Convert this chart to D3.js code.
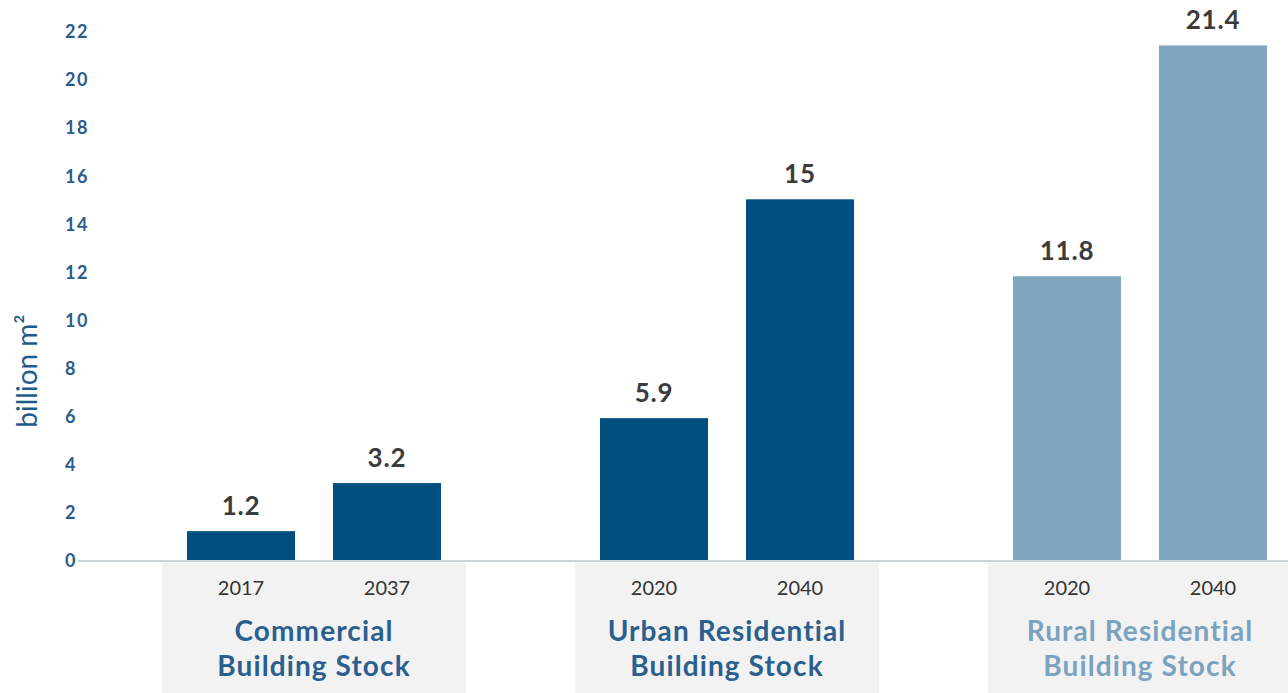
<!DOCTYPE html>
<html>
<head>
<meta charset="utf-8">
<script src="https://cdn.jsdelivr.net/npm/d3@7"></script>
<style>
  html, body { margin: 0; padding: 0; background: #fff; }
  svg { display: block; font-family: Lato, "Open Sans", sans-serif; }
</style>
</head>
<body>
<svg id="chart" width="1288" height="693"></svg>
<script>
// Building stock groups and their two years
const groups = ["Commercial", "Urban", "Rural"];
const groupLines = [
  ["Commercial", "Building Stock"],
  ["Urban Residential", "Building Stock"],
  ["Rural Residential", "Building Stock"]
];
const years = [["2017", "2037"], ["2020", "2040"], ["2020", "2040"]];
const values = [[1.2, 3.2], [5.9, 15], [11.8, 21.4]];
const valueLabels = [["1.2", "3.2"], ["5.9", "15"], ["11.8", "21.4"]];
const yTicks = [0, 2, 4, 6, 8, 10, 12, 14, 16, 18, 20, 22];
const yTitle = "billion m²";

const barColor = { Commercial: "#004f7f", Urban: "#004f7f", Rural: "#7fa5c0" };
const labelColor = { Commercial: "#2a5f8e", Urban: "#2a5f8e", Rural: "#7ba2be" };

const svg = d3.select("#chart");

const y = d3.scaleLinear().domain([0, 22]).range([560, 31]);
const xGroup = d3.scalePoint().domain(groups).range([314, 1140]);
const xInner = d3.scaleBand().domain([0, 1]).range([-127, 127]).paddingInner(0.26).paddingOuter(0);

// grey panels behind the category labels
svg.append("g").selectAll("rect").data(groups).join("rect")
  .attr("x", g => xGroup(g) - 152)
  .attr("y", 563)
  .attr("width", 304)
  .attr("height", 130)
  .attr("fill", "#f2f2f2");

// y axis: labels only
const yAxis = d3.axisLeft(y).tickValues(yTicks).tickSize(0).tickPadding(0);
const gy = svg.append("g").attr("transform", "translate(65,1)").call(yAxis);
gy.select(".domain").remove();
gy.selectAll("text")
  .attr("text-anchor", "start")
  .attr("font-family", "Lato, sans-serif")
  .attr("font-weight", 700)
  .attr("font-size", 18)
  .attr("letter-spacing", 1.5)
  .attr("fill", "#2b5c8a");

svg.append("text")
  .attr("transform", "translate(37,371) rotate(-90)")
  .attr("text-anchor", "middle")
  .attr("font-size", 28)
  .attr("fill", "#1d5c8c")
  .text(yTitle);

// baseline
svg.append("line")
  .attr("x1", 78).attr("x2", 1288)
  .attr("y1", y(0) + 1).attr("y2", y(0) + 1)
  .attr("stroke", "#ccd3d6").attr("stroke-width", 2);

// bars, value labels and year labels
groups.forEach((g, gi) => {
  const cell = svg.append("g").attr("transform", `translate(${xGroup(g)},0)`);
  const rows = values[gi].map((v, i) => ({ v, i, label: valueLabels[gi][i], year: years[gi][i] }));
  cell.selectAll("rect").data(rows).join("rect")
    .attr("x", d => xInner(d.i))
    .attr("width", xInner.bandwidth())
    .attr("y", d => y(d.v))
    .attr("height", d => y(0) - y(d.v))
    .attr("fill", barColor[g]);
  cell.selectAll("text.val").data(rows).join("text")
    .attr("class", "val")
    .attr("x", d => xInner(d.i) + xInner.bandwidth() / 2)
    .attr("y", d => y(d.v) - 16)
    .attr("text-anchor", "middle")
    .attr("font-weight", 700)
    .attr("font-size", 26)
    .attr("letter-spacing", 0.8)
    .attr("fill", "#3b3b3b")
    .text(d => d.label);
  cell.selectAll("text.year").data(rows).join("text")
    .attr("class", "year")
    .attr("x", d => xInner(d.i) + xInner.bandwidth() / 2)
    .attr("y", 595)
    .attr("text-anchor", "middle")
    .attr("font-size", 20)
    .attr("fill", "#333")
    .text(d => d.year);
  cell.selectAll("text.cat").data(groupLines[gi]).join("text")
    .attr("class", "cat")
    .attr("x", 0)
    .attr("y", (d, i) => 641 + i * 35)
    .attr("text-anchor", "middle")
    .attr("font-weight", 700)
    .attr("font-size", 28)
    .attr("letter-spacing", 1.1)
    .attr("fill", labelColor[g])
    .text(d => d);
});
</script>
</body>
</html>
